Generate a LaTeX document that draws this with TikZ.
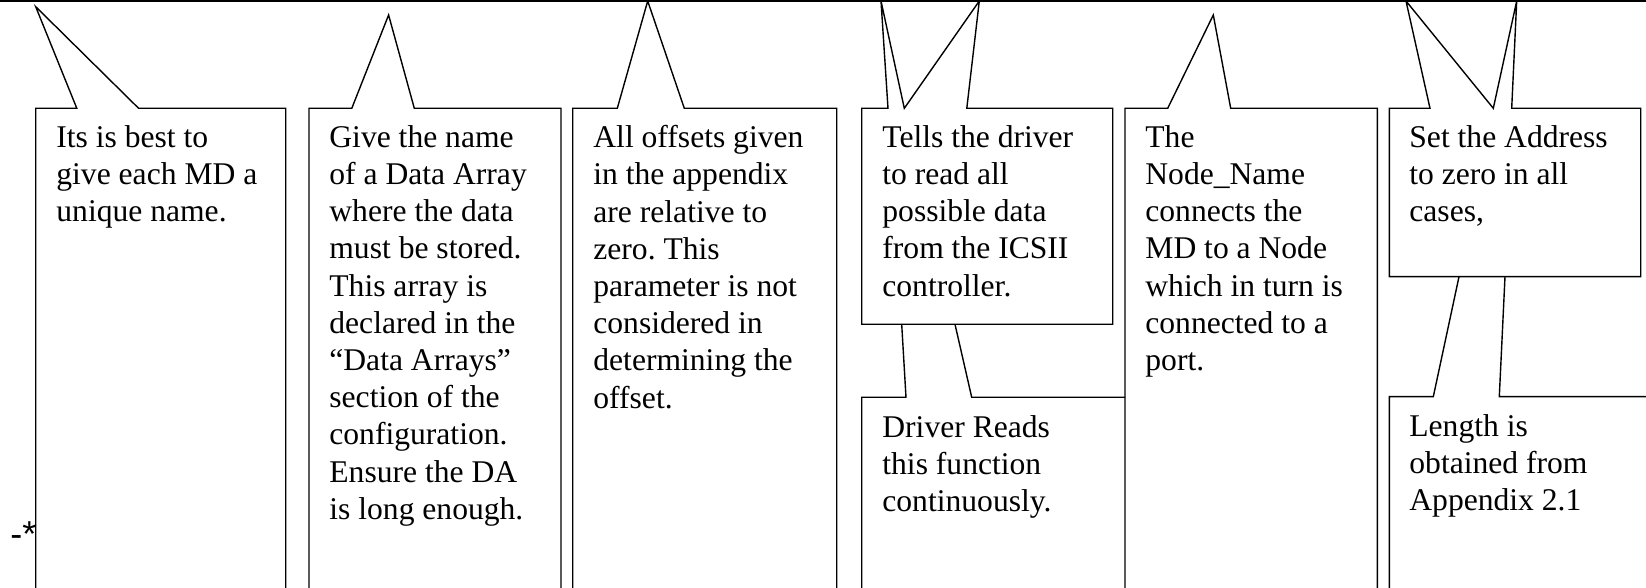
\documentclass[tikz,border=0pt]{standalone}
\usepackage{fontspec}
\setmainfont{Liberation Serif}
\newfontfamily\starfont{Liberation Sans}
\frenchspacing
\begin{document}
\begin{tikzpicture}[x=0.5pt, y=-0.5pt,
    box/.style = {draw, line width=0.7pt, line join=miter},
    txt/.style = {anchor=north west, inner sep=0pt, align=left,
      font=\fontsize{15.8}{18.6}\selectfont, execute at begin node=\strut}]
  \clip (0,0) rectangle (1646,588);
  \draw[line width=1pt] (0,1) -- (1646,1);
  % callouts along the top line
  \draw[box] (35.7,620) -- (35.7,108.3) -- (76.8,108.3) -- (35.7,6.7)
    -- (138.6,108.3) -- (285.7,108.3) -- (285.7,620);
  \draw[box] (309,620) -- (309,108.3) -- (351.8,108.3) -- (388.6,15)
    -- (414.3,108.3) -- (561,108.3) -- (561,620);
  \draw[box] (572.7,620) -- (572.7,108.3) -- (617.3,108.3) -- (647.7,1)
    -- (684.3,108.3) -- (836.7,108.3) -- (836.7,620);
  \draw[box] (861.7,108.3) -- (888,108.3) -- (881,1) -- (904.3,108.3)
    -- (979.3,1) -- (966.8,108.3) -- (1112.7,108.3) -- (1112.7,324.3)
    -- (861.7,324.3) -- cycle;
  \draw[box] (1125,620) -- (1125,108.3) -- (1167.7,108.3) -- (1213.3,15)
    -- (1230.7,108.3) -- (1377.3,108.3) -- (1377.3,620);
  \draw[box] (1389.3,108.3) -- (1430,108.3) -- (1406,1) -- (1493.3,108.3)
    -- (1516.7,1) -- (1511.7,108.3) -- (1640.7,108.3) -- (1640.7,276.7)
    -- (1389.3,276.7) -- cycle;
  % callouts hanging below
  \draw[box] (861.7,620) -- (861.7,397.3) -- (906,397.3) -- (901.7,324.3)
    (955,324.3) -- (971.7,397.3) -- (1125,397.3);
  \draw[box] (1389.3,620) -- (1389.3,396.7) -- (1433.3,396.7) -- (1459,276.7)
    (1505,276.7) -- (1499.3,396.7) -- (1660,396.7);
  % texts
  \node[txt] (name) at (56,125) {Its is best to\\give each MD a\\unique name.};
  \node[txt] (array) at (329,125) {Give the name\\of a Data Array\\where the data\\must be stored.\\This array is\\declared in the\\“Data Arrays”\\section of the\\configuration.\\Ensure the DA\\is long enough.};
  \node[txt] (offset) at (593,125) {All offsets given\\in the appendix\\are relative to\\zero. This\\parameter is not\\considered in\\determining the\\offset.};
  \node[txt] (readall) at (882,125) {Tells the driver\\to read all\\possible data\\from the ICSII\\controller.};
  \node[txt] (reads) at (882,415) {Driver Reads\\this function\\continuously.};
  \node[txt] (nodename) at (1145,125) {The\\Node\_Name\\connects the\\MD to a Node\\which in turn is\\connected to a\\port.};
  \node[txt] (address) at (1409,125) {Set the Address\\to zero in all\\cases,};
  \node[txt] (length) at (1409,414) {Length is\\obtained from\\Appendix 2.1};
  \node[anchor=base west, inner sep=0pt, font=\starfont\fontsize{18}{21}\selectfont] (star) at (10,546) {-*};
\end{tikzpicture}
\end{document}
